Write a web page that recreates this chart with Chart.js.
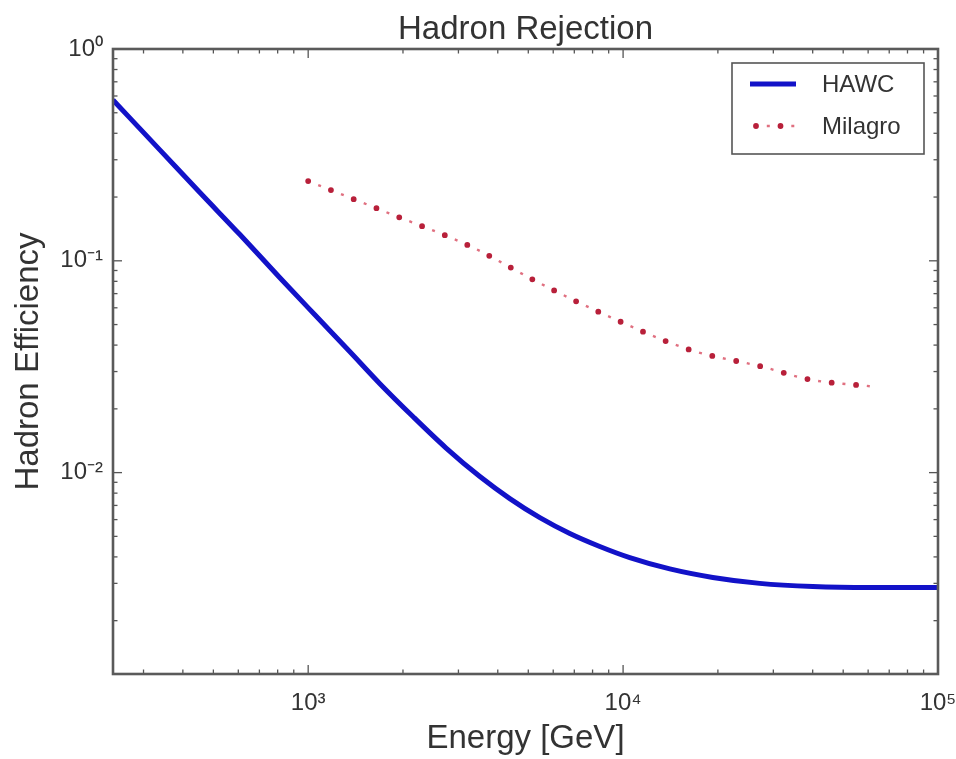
<!DOCTYPE html>
<html><head><meta charset="utf-8">
<script src="https://cdn.jsdelivr.net/npm/chart.js@4"></script>
<style>html,body{margin:0;padding:0;background:#fff}#wrap{width:956px;height:759px;position:relative}</style>
</head><body><div id="wrap"><canvas id="c"></canvas></div>
<script>
const chartTitle = 'Hadron Rejection';
const xTitle = 'Energy [GeV]';
const yTitle = 'Hadron Efficiency';
const seriesNames = ['HAWC', 'Milagro'];
const hawcEnergy = [240, 338, 453, 607, 813, 1050, 1357, 1689, 2150, 2736, 3509, 4368, 5440, 6773, 8433, 10500, 14070, 19270, 27160, 40010, 60700, 100000];
const hawcEff    = [0.574, 0.334, 0.210, 0.133, 0.0832, 0.0556, 0.0372, 0.0263, 0.0184, 0.0131, 0.00958, 0.00754, 0.00613, 0.00516, 0.00448, 0.00397, 0.00351, 0.0032, 0.0030, 0.0029, 0.00287, 0.00287];
const milagroEnergy = [1000, 1800, 3300, 5400, 8500, 16300, 27700, 39200, 62000];
const milagroEff    = [0.238, 0.168, 0.1164, 0.0788, 0.0568, 0.0380, 0.0316, 0.0275, 0.0255];
const xMajorTicks = [1e3, 1e4, 1e5];
const yMajorTicks = [1e-2, 1e-1, 1];
const xRange = [240, 1e5];
const yRange = [1.12e-3, 1];

const FONT = 'Liberation Sans, Arial, Helvetica, sans-serif';
const TXT = '#333';
const SUP = {'0':'⁰','1':'¹','2':'²','3':'³','4':'⁴','5':'⁵','6':'⁶','7':'⁷','8':'⁸','9':'⁹','-':'⁻'};
function powLabel(v){ const e = Math.round(Math.log10(v)); return '10' + String(e).split('').map(c => SUP[c]).join(''); }
function minorTicks(lo, hi){
  const out = [];
  for (let d = Math.floor(Math.log10(lo)); d <= Math.ceil(Math.log10(hi)); d++){
    for (let k = 1; k <= 9; k++){ const v = k * Math.pow(10, d); if (v >= lo * 0.9999 && v <= hi * 1.0001) out.push(v); }
  }
  return out;
}
const toXY = (xs, ys) => xs.map((x, i) => ({x: x, y: ys[i]}));

const HAWC_COLOR = '#1212c8';
const MIL_COLOR = '#b8203a';
const MIL_DASH_COLOR = '#e07080';

const framePlugin = {
  id: 'frame',
  afterDatasetsDraw(chart){
    const {ctx, chartArea: a, scales: {x, y}} = chart;
    ctx.save();
    ctx.strokeStyle = '#555';
    ctx.lineWidth = 1.3;
    const seg = (x1, y1, x2, y2) => { ctx.beginPath(); ctx.moveTo(x1, y1); ctx.lineTo(x2, y2); ctx.stroke(); };
    minorTicks(xRange[0], xRange[1]).forEach(v => {
      const isMajor = xMajorTicks.some(m => Math.abs(m - v) / m < 1e-6);
      const L = isMajor ? 9 : 4.5;
      const px = x.getPixelForValue(v);
      seg(px, a.bottom, px, a.bottom - L);
      seg(px, a.top, px, a.top + L);
    });
    minorTicks(yRange[0], yRange[1]).forEach(v => {
      const isMajor = yMajorTicks.some(m => Math.abs(m - v) / m < 1e-6);
      const L = isMajor ? 9 : 4.5;
      const py = y.getPixelForValue(v);
      seg(a.left, py, a.left + L, py);
      seg(a.right, py, a.right - L, py);
    });
    ctx.lineWidth = 2.6;
    ctx.strokeStyle = '#5a5a5a';
    ctx.strokeRect(a.left, a.top, a.right - a.left, a.bottom - a.top);

    // legend
    const lw = 192, lh = 91;
    const lx = a.right - 14 - lw, ly = a.top + 14;
    ctx.fillStyle = '#fff';
    ctx.fillRect(lx, ly, lw, lh);
    ctx.lineWidth = 1.6;
    ctx.strokeStyle = '#555';
    ctx.strokeRect(lx, ly, lw, lh);
    const ds = chart.data.datasets;
    const r1 = ly + 21, r2 = ly + 63;
    ctx.lineCap = 'butt';
    ctx.strokeStyle = ds[0].borderColor; ctx.lineWidth = ds[0].borderWidth;
    seg(lx + 18, r1, lx + 64, r1);
    ctx.lineCap = 'round';
    ctx.setLineDash(ds[1].borderDash);
    ctx.strokeStyle = ds[1].borderColor; ctx.lineWidth = ds[1].borderWidth;
    seg(lx + 24, r2, lx + 64, r2);
    ctx.lineCap = 'butt';
    ctx.setLineDash(ds[2].borderDash);
    ctx.lineDashOffset = ds[2].borderDashOffset;
    ctx.strokeStyle = ds[2].borderColor; ctx.lineWidth = ds[2].borderWidth;
    seg(lx + 24, r2, lx + 64, r2);
    ctx.setLineDash([]);
    ctx.fillStyle = TXT;
    ctx.font = '24px ' + FONT;
    ctx.textBaseline = 'middle';
    ctx.textAlign = 'left';
    ctx.fillText(ds[0].label, lx + 90, r1 + 1);
    ctx.fillText(ds[1].label, lx + 90, r2 + 1);
    ctx.restore();
  }
};

new Chart(document.getElementById('c'), {
  type: 'line',
  data: {
    datasets: [
      { label: seriesNames[0], data: toXY(hawcEnergy, hawcEff), borderColor: HAWC_COLOR, borderWidth: 5,
        pointRadius: 0, fill: false, cubicInterpolationMode: 'monotone', borderCapStyle: 'butt' },
      { label: seriesNames[1], data: toXY(milagroEnergy, milagroEff), borderColor: MIL_COLOR, borderWidth: 5.8,
        borderDash: [0, 24.5], borderCapStyle: 'round', pointRadius: 0, fill: false, cubicInterpolationMode: 'monotone' },
      { label: '', data: toXY(milagroEnergy, milagroEff), borderColor: MIL_DASH_COLOR, borderWidth: 2.4,
        borderDash: [3, 21.5], borderDashOffset: 13.7, borderCapStyle: 'butt', pointRadius: 0, fill: false, cubicInterpolationMode: 'monotone' }
    ]
  },
  options: {
    responsive: true,
    maintainAspectRatio: false,
    animation: false,
    layout: { padding: { left: 0, right: 18, top: 0, bottom: 0 } },
    plugins: {
      legend: { display: false },
      tooltip: { enabled: false },
      title: { display: true, text: chartTitle, fullSize: false, color: TXT,
        font: { family: FONT, size: 33, weight: 'normal', lineHeight: 1.1 }, padding: { top: 12, bottom: 0.7 } }
    },
    scales: {
      x: {
        type: 'logarithmic', position: 'bottom', min: xRange[0], max: xRange[1],
        grid: { display: false, drawTicks: false }, border: { display: false },
        ticks: { color: TXT, font: { family: FONT, size: 24 }, padding: 15, maxRotation: 0, autoSkip: false,
          callback: v => powLabel(v) },
        afterBuildTicks: s => { s.ticks = xMajorTicks.map(v => ({ value: v })); },
        afterFit: s => { s.height = 85; s.paddingLeft = 0; s.paddingRight = 0; },
        title: { display: true, text: xTitle, color: TXT, font: { family: FONT, size: 33 }, padding: { top: 0, bottom: 0 } }
      },
      y: {
        type: 'logarithmic', position: 'left', min: yRange[0], max: yRange[1],
        grid: { display: false, drawTicks: false }, border: { display: false },
        ticks: { color: TXT, font: { family: FONT, size: 24 }, padding: 10, autoSkip: false,
          callback: v => powLabel(v) },
        afterBuildTicks: s => { s.ticks = yMajorTicks.map(v => ({ value: v })); },
        afterFit: s => { s.width = 113; s.paddingTop = 0; s.paddingBottom = 0; },
        title: { display: true, text: yTitle, color: TXT, font: { family: FONT, size: 33 }, padding: { top: 9, bottom: 0 } }
      }
    }
  },
  plugins: [framePlugin]
});
</script>
</body></html>
